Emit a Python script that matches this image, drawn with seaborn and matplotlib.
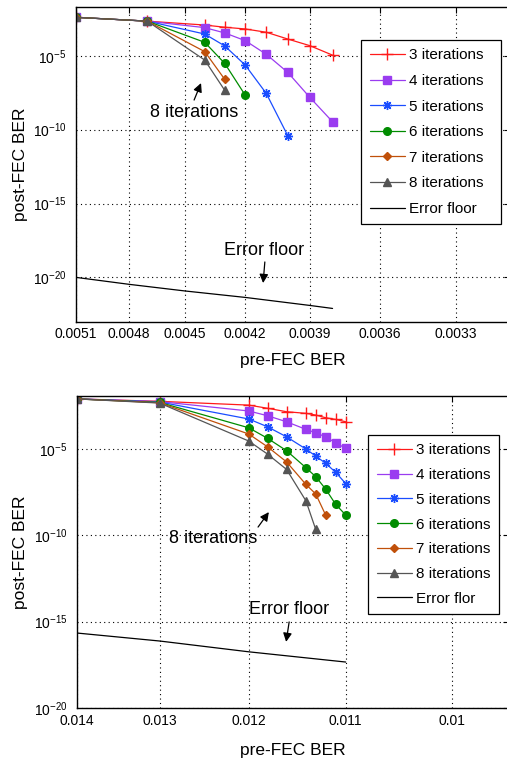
import numpy as np
import pandas as pd
import seaborn as sns
import matplotlib
matplotlib.use("Agg")
import matplotlib.pyplot as plt
from matplotlib.ticker import FixedLocator, NullLocator, FuncFormatter

# ---- data: upper panel ----
pre_top = [0.0051, 0.0047, 0.0044, 0.0043, 0.0042, 0.0041, 0.0040, 0.0039, 0.0038]
it3_top = [4.0e-3, 2.2e-3, 1.2e-3, 8.5e-4, 6.5e-4, 3.9e-4, 1.35e-4, 4.8e-5, 1.1e-5]
it4_top = [4.0e-3, 2.2e-3, 8.0e-4, 3.5e-4, 1.05e-4, 1.25e-5, 7.4e-7, 1.5e-8, 3.4e-10]
it5_top = [4.0e-3, 2.2e-3, 2.95e-4, 4.6e-5, 2.3e-6, 2.8e-8, 3.8e-11]
it6_top = [4.0e-3, 2.2e-3, 8.1e-5, 3.0e-6, 2.1e-8]
it7_top = [4.0e-3, 2.2e-3, 1.9e-5, 2.5e-7]
it8_top = [4.0e-3, 2.2e-3, 5.1e-6, 4.5e-8]
floor_pre_top = [0.0051, 0.0048, 0.0045, 0.0042, 0.0039, 0.0038]
floor_top = [1.0e-20, 3.4e-21, 1.2e-21, 4.4e-22, 1.26e-22, 7.9e-23]
xticks_top = [0.0051, 0.0048, 0.0045, 0.0042, 0.0039, 0.0036, 0.0033]

# ---- data: lower panel ----
pre_bot = [0.014, 0.013, 0.012, 0.0118, 0.0116, 0.0114, 0.0113, 0.0112, 0.0111, 0.011]
it3_bot = [8.0e-3, 5.8e-3, 3.5e-3, 2.3e-3, 1.45e-3, 1.17e-3, 9.3e-4, 6.5e-4, 5.2e-4, 3.8e-4]
it4_bot = [8.0e-3, 5.6e-3, 1.6e-3, 8.5e-4, 3.8e-4, 1.38e-4, 8.7e-5, 5.1e-5, 2.3e-5, 1.1e-5]
it5_bot = [8.0e-3, 5.3e-3, 5.5e-4, 1.95e-4, 5.1e-5, 1.0e-5, 3.9e-6, 1.5e-6, 4.5e-7, 1.0e-7]
it6_bot = [8.0e-3, 5.0e-3, 1.7e-4, 4.2e-5, 8.0e-6, 8.3e-7, 2.5e-7, 4.8e-8, 6.3e-9, 1.5e-9]
it7_bot = [8.0e-3, 4.8e-3, 7.4e-5, 1.35e-5, 1.8e-6, 8.9e-8, 2.5e-8, 1.5e-9]
it8_bot = [8.0e-3, 4.6e-3, 2.9e-5, 5.1e-6, 6.6e-7, 1.0e-8, 2.2e-10]
floor_pre_bot = [0.014, 0.013, 0.012, 0.011]
floor_bot = [2.2e-16, 7.6e-17, 1.8e-17, 4.6e-18]
xticks_bot = [0.014, 0.013, 0.012, 0.011, 0.01]

yticks = [1e-20, 1e-15, 1e-10, 1e-5]

names = ["3 iterations", "4 iterations", "5 iterations",
         "6 iterations", "7 iterations", "8 iterations"]
colors = ["#ff1a1a", "#9a3cf0", "#1a4dff", "#008c00", "#c0500a", "#555555"]
markers = ["+", "s", (8, 2, 0), "o", "D", "^"]
msizes = [8, 6, 6.5, 5.5, 4.5, 5.5]

sns.set_theme(style="white")
plt.rcParams["font.family"] = ["Liberation Sans", "DejaVu Sans"]
plt.rcParams["mathtext.fontset"] = "custom"
plt.rcParams["mathtext.rm"] = "Liberation Sans"
plt.rcParams["mathtext.it"] = "Liberation Sans"
plt.rcParams["text.color"] = "black"
plt.rcParams["axes.labelcolor"] = "black"


def make_df(pre, series):
    rows = []
    for name, ys in series:
        for x, y in zip(pre, ys):
            rows.append({"pre": x, "post": y, "series": name})
    return pd.DataFrame(rows)


def draw_panel(ax, pre, its, fpre, fvals, floor_name, xlim, ylim, xticks, xfmt,
               leg_anchor, pad_lbl, lspace, txt8, arr8, txtfl, arrfl):
    df = make_df(pre, list(zip(names, its)))
    for name, c, m, ms in zip(names, colors, markers, msizes):
        sub = df[df.series == name]
        sns.lineplot(data=sub, x="pre", y="post", ax=ax, color=c, marker=m,
                     markersize=ms, markeredgecolor=c, markerfacecolor=c,
                     markeredgewidth=1.0, linewidth=0.9, label=name + pad_lbl,
                     estimator=None, sort=False)
    fl = pd.DataFrame({"pre": fpre, "post": fvals})
    sns.lineplot(data=fl, x="pre", y="post", ax=ax, color="black",
                 linewidth=0.9, label=floor_name + pad_lbl, estimator=None,
                 sort=False)

    ax.set_xscale("log")
    ax.set_yscale("log")
    ax.set_xlim(*xlim)
    ax.set_ylim(*ylim)
    ax.xaxis.set_major_locator(FixedLocator(xticks))
    ax.xaxis.set_minor_locator(NullLocator())
    ax.xaxis.set_major_formatter(FuncFormatter(lambda v, p: xfmt(v)))
    ax.yaxis.set_major_locator(FixedLocator(yticks))
    ax.yaxis.set_minor_locator(NullLocator())
    ax.yaxis.set_major_formatter(
        FuncFormatter(lambda v, p: r"$\mathrm{10^{%d}}$" % round(np.log10(v))))
    ax.grid(True, which="major", color="black", linestyle=(0, (1, 3)),
            linewidth=0.8)
    ax.tick_params(direction="in", length=4, width=0.8, top=True, right=True,
                   labelsize=10, colors="black")
    ax.tick_params(axis="y", pad=7)
    ax.tick_params(axis="x", pad=4)
    for s in ax.spines.values():
        s.set_color("black")
        s.set_linewidth(1.0)
        s.set_visible(True)

    ax.set_xlabel("pre-FEC BER", fontsize=12.5, color="black")
    ax.set_ylabel("post-FEC BER", fontsize=12.5, color="black")

    leg = ax.legend(loc="upper left", bbox_to_anchor=leg_anchor,
                    borderaxespad=0, fancybox=False, framealpha=1,
                    edgecolor="black", fontsize=11, handlelength=2.3,
                    handletextpad=0.3, labelspacing=lspace, borderpad=0.55)
    leg.get_frame().set_linewidth(0.9)
    for t in leg.get_texts():
        t.set_color("black")

    arrow = dict(arrowstyle="-|>", color="black", lw=0.9,
                 mutation_scale=13, shrinkA=0, shrinkB=0)
    ax.text(*txt8, "8 iterations", transform=ax.transAxes, fontsize=13,
            ha="center", va="center", color="black")
    ax.annotate("", xy=arr8[1], xytext=arr8[0], xycoords="axes fraction",
                textcoords="axes fraction", arrowprops=arrow)
    ax.text(*txtfl, "Error floor", transform=ax.transAxes, fontsize=13,
            ha="center", va="center", color="black")
    ax.annotate("", xy=arrfl[1], xytext=arrfl[0], xycoords="axes fraction",
                textcoords="axes fraction", arrowprops=arrow)


fig = plt.figure(figsize=(5.07, 7.6), dpi=100)
ax1 = fig.add_axes([0.150, 0.5767, 0.856, 0.4137])
ax2 = fig.add_axes([0.152, 0.0684, 0.852, 0.4105])

draw_panel(ax1, pre_top,
           [it3_top, it4_top, it5_top, it6_top, it7_top, it8_top],
           floor_pre_top, floor_top, "Error floor",
           (0.0051, 0.0031), (1e-23, 10 ** -1.72), xticks_top,
           lambda v: "%.4f" % v,
           (0.657, 0.896), "  ", 0.76,
           (0.272, 0.664), ((0.272, 0.705), (0.288, 0.759)),
           (0.434, 0.228), ((0.435, 0.190), (0.431, 0.123)))
ax1.xaxis.set_label_coords(0.5, -0.100)
ax1.yaxis.set_label_coords(-0.110, 0.5)

draw_panel(ax2, pre_bot,
           [it3_bot, it4_bot, it5_bot, it6_bot, it7_bot, it8_bot],
           floor_pre_bot, floor_bot, "Error flor",
           (0.014, 0.0095), (1e-20, 10 ** -1.93), xticks_bot,
           lambda v: ("%.3f" % v).rstrip("0") if v < 0.0105 else "%.3f" % v,
           (0.674, 0.875), "", 0.70,
           (0.315, 0.542), ((0.419, 0.580), (0.444, 0.628)),
           (0.490, 0.317), ((0.491, 0.276), (0.484, 0.212)))
ax2.xaxis.set_label_coords(0.5, -0.112)
ax2.yaxis.set_label_coords(-0.113, 0.5)

fig.savefig("out.png", dpi=100)
